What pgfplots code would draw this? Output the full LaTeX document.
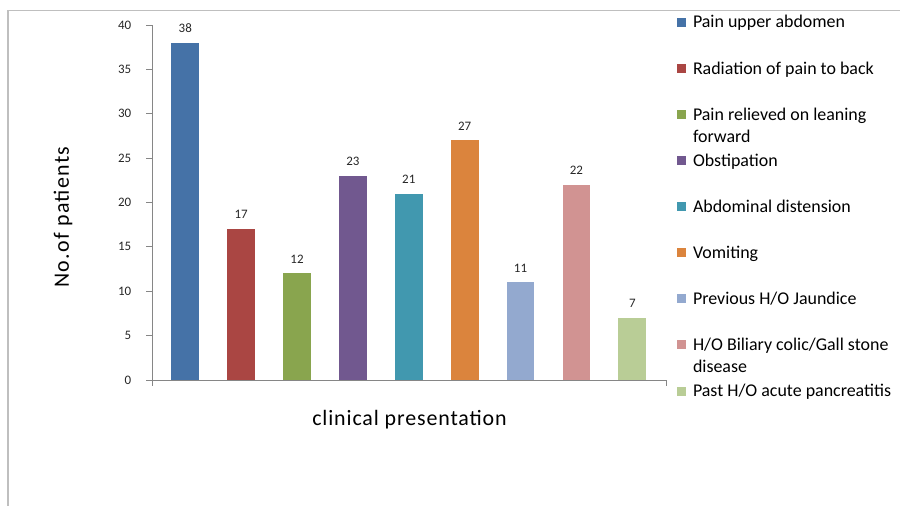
\documentclass[border=0pt]{standalone}
\usepackage{fontspec}
\setmainfont{Carlito}
\usepackage{pgfplots}
\pgfplotsset{compat=1.18}

\definecolor{c1}{HTML}{4572A7}
\definecolor{c2}{HTML}{AA4643}
\definecolor{c3}{HTML}{89A54E}
\definecolor{c4}{HTML}{71588F}
\definecolor{c5}{HTML}{4198AF}
\definecolor{c6}{HTML}{DB843D}
\definecolor{c7}{HTML}{93A9CF}
\definecolor{c8}{HTML}{D19392}
\definecolor{c9}{HTML}{B9CD96}
\definecolor{axisgray}{HTML}{868686}
\definecolor{framegray}{HTML}{BFBFBF}

\begin{document}
\begin{tikzpicture}
\useasboundingbox (0,0) rectangle (900bp,506bp);
% outer chart frame (only top and left edges visible)
\draw[framegray, line width=1.5bp] (8bp,0) -- (8bp,495.5bp) -- (900bp,495.5bp);

\begin{axis}[
    at={(152.5bp,126bp)}, anchor=south west,
    scale only axis,
    width=514bp, height=355bp,
    ybar, bar width=27.7bp, bar shift=0pt,
    xmin=-0.587, xmax=8.612,
    ymin=0, ymax=40,
    ytick={0,5,...,40},
    xtick={-0.587,8.612}, xticklabels={},
    axis x line*=bottom, axis y line*=left,
    axis line style={axisgray, line width=0.8bp, -},
    tick style={axisgray, line width=0.8bp},
    tick align=outside, major tick length=6bp,
    clip=false,
    /pgf/number format/assume math mode=true,
    yticklabel style={font=\fontsize{13}{15}\selectfont, text=black!85, inner sep=0pt, xshift=-15bp},
    ylabel={No.of patients},
    ylabel style={at={(axis description cs:-0.174,0.459)}, anchor=center,
        font=\fontsize{22}{26}\selectfont\addfontfeature{LetterSpace=6}},
    xlabel={clinical presentation},
    xlabel style={at={(axis description cs:0.5,-0.113)}, anchor=center,
        font=\fontsize{22}{26}\selectfont\addfontfeature{LetterSpace=4}},
    nodes near coords,
    every node near coord/.append style={font=\fontsize{13}{15}\selectfont, text=black!85, inner sep=0pt, anchor=south, yshift=10bp},
    legend image code/.code={\fill[#1, draw=none] (0bp,1.2bp) rectangle (9bp,10.2bp);},
    legend style={
        at={(524.5bp,364bp)}, anchor=north west,
        draw=none, fill=none, inner sep=0pt, outer sep=0pt,
        row sep=34.1bp, column sep=7bp,
        font=\fontsize{18}{22}\selectfont,
        nodes={inner sep=0pt, anchor=base west, text height=12bp, text depth=0bp},
    },
]
\addplot[fill=c1, draw=none] coordinates {(0,38)};
\addlegendentry{Pain upper abdomen}
\addplot[fill=c2, draw=none] coordinates {(1,17)};
\addlegendentry{Radiation of pain to back}
\addplot[fill=c3, draw=none] coordinates {(2,12)};
\addlegendentry{\parbox[t]{200bp}{Pain relieved on leaning\\forward}}
\addplot[fill=c4, draw=none] coordinates {(3,23)};
\addlegendentry{Obstipation}
\addplot[fill=c5, draw=none] coordinates {(4,21)};
\addlegendentry{Abdominal distension}
\addplot[fill=c6, draw=none] coordinates {(5,27)};
\addlegendentry{Vomiting}
\addplot[fill=c7, draw=none] coordinates {(6,11)};
\addlegendentry{Previous H/O Jaundice}
\addplot[fill=c8, draw=none] coordinates {(7,22)};
\addlegendentry{\parbox[t]{200bp}{H/O Biliary colic/Gall stone\\disease}}
\addplot[fill=c9, draw=none] coordinates {(8,7)};
\addlegendentry{Past H/O acute pancreatitis}
\end{axis}
\end{tikzpicture}
\end{document}
